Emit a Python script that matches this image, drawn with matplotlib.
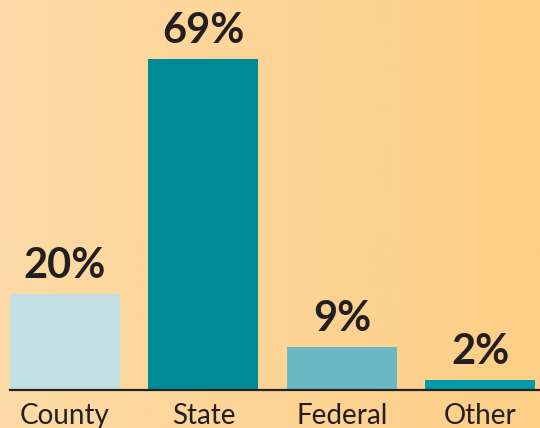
import numpy as np
import matplotlib
matplotlib.use("Agg")
import matplotlib.pyplot as plt
from matplotlib.colors import LinearSegmentedColormap

# data
categories = ["County", "State", "Federal", "Other"]
shares = [20, 69, 9, 2]
bar_colors = ["#c2dfe4", "#008a96", "#6ab8c4", "#009ba6"]

plt.rcParams['font.family'] = ['Lato', 'DejaVu Sans']

fig = plt.figure(figsize=(5.4, 4.28), dpi=100)

# warm gradient background
bg = fig.add_axes([0, 0, 1, 1], zorder=0)
grad = np.linspace(0, 1, 256).reshape(1, -1)
cmap = LinearSegmentedColormap.from_list("bg", ["#fddba6", "#fdce86"])
bg.imshow(grad, aspect="auto", cmap=cmap, extent=[0, 1, 0, 1])
bg.axis("off")

ax = fig.add_axes([0, 38 / 428, 1, 390 / 428], zorder=1)
ax.patch.set_alpha(0)

x = np.arange(len(categories))
bars = ax.bar(x, shares, width=0.794, color=bar_colors, zorder=2)

ax.set_xlim(-0.469, 3.43)
ax.set_ylim(0, 81.3)

for s in ["top", "right", "left"]:
    ax.spines[s].set_visible(False)
ax.spines["bottom"].set_color("#222222")
ax.spines["bottom"].set_linewidth(1.6)
ax.spines["bottom"].set_bounds(-0.4, 3.43)
ax.set_yticks([])
ax.set_xticks([])

for xi, v, name in zip(x, shares, categories):
    ax.annotate(f"{v}%", (xi, v), xytext=(0, 11.5), textcoords="offset points",
                ha="center", va="baseline", fontsize=30, fontweight="bold",
                color="#231f20")
    ax.annotate(name, (xi, 0), xytext=(0, -24.5), textcoords="offset points",
                ha="center", va="baseline", fontsize=20, color="#231f20",
                annotation_clip=False)

fig.savefig("out.png", dpi=100)
